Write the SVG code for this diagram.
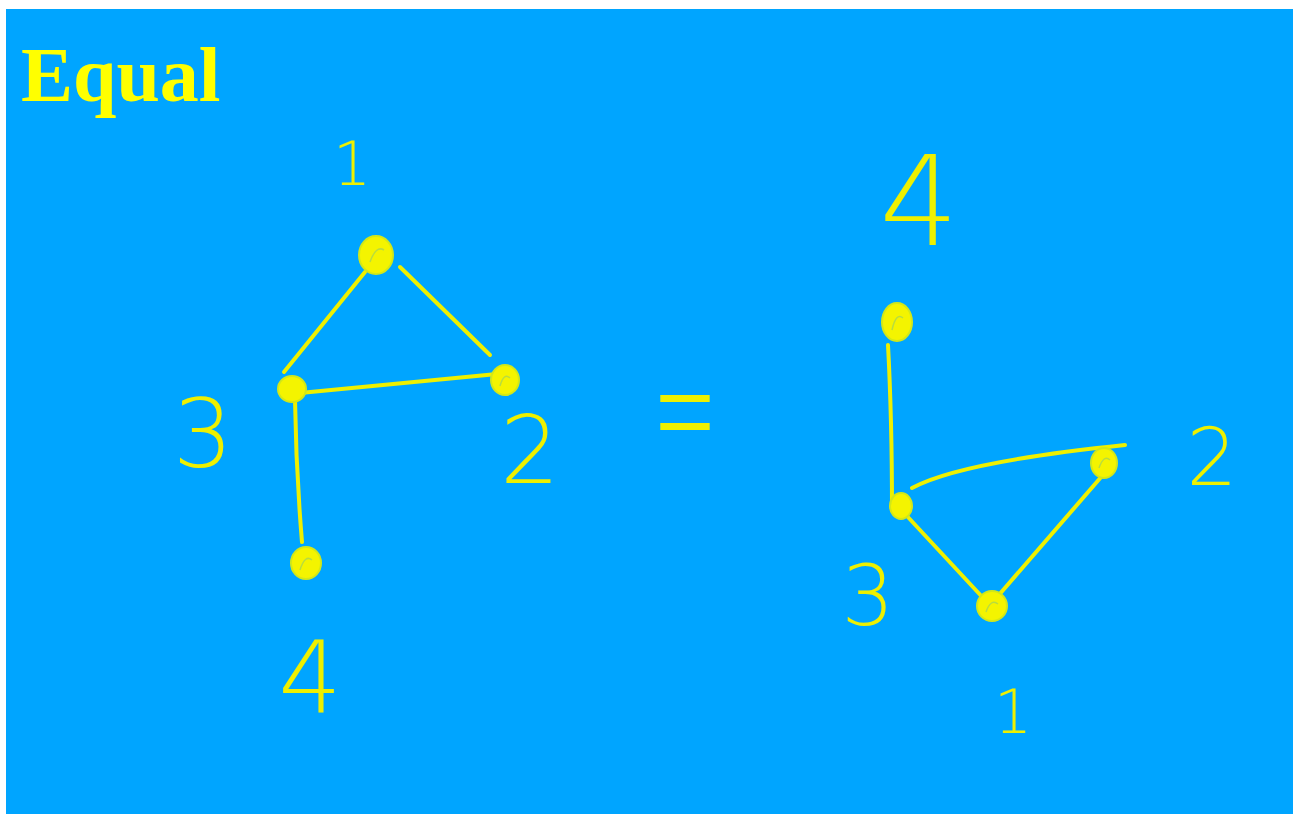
<svg xmlns="http://www.w3.org/2000/svg" width="1293" height="814" viewBox="0 0 1293 814">
<style>
.bg{fill:#00A5FF}
.title{font-family:"Liberation Serif","Times New Roman",serif;font-weight:bold;font-size:78px;fill:#FFFF00}
.edge{fill:none;stroke:#EEF000;stroke-width:4;stroke-linecap:round;stroke-linejoin:round}
.node{fill:#F4F400;stroke:#D2E818;stroke-width:2}
.scrib{fill:none;stroke:#B8DC40;stroke-width:1.5}
.lbl{font-family:"DejaVu Sans","Liberation Sans",sans-serif;font-weight:200;fill:#EEF000;text-anchor:middle}
</style>
<rect x="0" y="0" width="1293" height="814" fill="#FFFFFF"/>
<rect class="bg" x="6" y="9" width="1287" height="805"/>
<text class="title" x="21" y="101">Equal</text>

<g id="connectors">
  <path class="edge" d="M365,272 L284,372"/>
  <path class="edge" d="M400,267 L490,355"/>
  <path class="edge" d="M300,393 L497,374"/>
  <path class="edge" d="M295,400 Q296,470 302,542"/>
  <path class="edge" d="M888,345 Q892,420 892,510"/>
  <path class="edge" d="M912,488 Q960,462 1125,445"/>
  <path class="edge" d="M906,515 L985,600"/>
  <path class="edge" d="M998,596 L1102,476"/>
</g>

<g id="left-node-1"><ellipse class="node" cx="376" cy="255" rx="17" ry="19"/><path class="scrib" d="M370,262 Q376,245 384,250"/><text class="lbl" x="352" y="185" font-size="60">1</text></g>
<g id="left-node-2"><ellipse class="node" cx="505" cy="380" rx="14" ry="15"/><path class="scrib" d="M500,386 Q504,372 510,378"/><text class="lbl" x="530" y="483" font-size="94">2</text></g>
<g id="left-node-3"><ellipse class="node" cx="292" cy="389" rx="14" ry="13"/><text class="lbl" x="203" y="467" font-size="95">3</text></g>
<g id="left-node-4"><ellipse class="node" cx="306" cy="563" rx="15" ry="16"/><path class="scrib" d="M300,570 Q305,554 312,560"/><text class="lbl" x="310" y="712" font-size="100">4</text></g>

<g id="equals"><text class="lbl" transform="translate(685,0) scale(0.45,1)" x="0" y="468" font-size="175">=</text></g>

<g id="right-node-4"><ellipse class="node" cx="897" cy="322" rx="15" ry="19"/><path class="scrib" d="M892,330 Q896,312 903,318"/><text class="lbl" x="919" y="245" font-size="125">4</text></g>
<g id="right-node-3"><ellipse class="node" cx="901" cy="506" rx="11" ry="13"/><text class="lbl" x="868" y="625" font-size="83">3</text></g>
<g id="right-node-2"><ellipse class="node" cx="1104" cy="463" rx="13" ry="15"/><path class="scrib" d="M1099,468 Q1104,454 1110,460"/><text class="lbl" x="1212" y="485" font-size="80">2</text></g>
<g id="right-node-1"><ellipse class="node" cx="992" cy="606" rx="15" ry="15"/><path class="scrib" d="M986,612 Q991,598 998,604"/><text class="lbl" x="1013" y="733" font-size="60">1</text></g>
</svg>
